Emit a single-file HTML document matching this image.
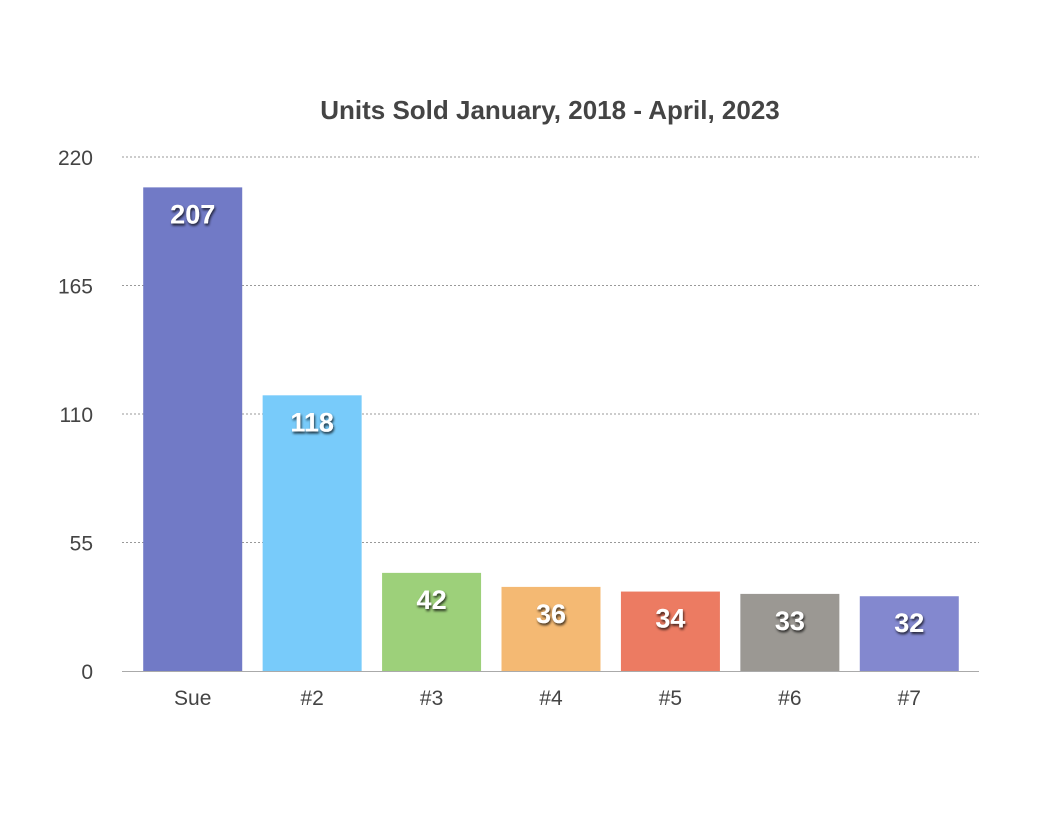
<!DOCTYPE html>
<html><head><meta charset="utf-8"><style>
body{margin:0;background:#fff;}
svg text{font-family:"Liberation Sans",Arial,sans-serif;}
</style></head><body>
<svg id="chart" width="1038" height="824" xmlns="http://www.w3.org/2000/svg">
<defs><filter id="sh" x="-20%" y="-20%" width="140%" height="160%"><feDropShadow dx="1" dy="2" stdDeviation="1.2" flood-color="#000" flood-opacity="0.75"/></filter></defs>
<text x="550" y="119" text-anchor="middle" font-size="26" font-weight="bold" fill="#444">Units Sold January, 2018 - April, 2023</text>
<g id="grid"></g><g id="bars"></g><g id="labels"></g>
</svg>
<script>
const categories=["Sue","#2","#3","#4","#5","#6","#7"];
const values=[207,118,42,36,34,33,32];
const colors=["#717ac6","#78cbfa","#9dd07a","#f4b973","#ec7b62","#9b9893","#8388cf"];
const ticks=[0,55,110,165,220];
const NS="http://www.w3.org/2000/svg";
const y0=671,y1=157,vmax=220,bandL=133,bandR=969,barW=99;
const y=v=>y0-(v/vmax)*(y0-y1);
const bw=(bandR-bandL)/categories.length;
const x=i=>bandL+bw*i+bw/2;
function mk(t,a,p){const e=document.createElementNS(NS,t);for(const k in a)e.setAttribute(k,a[k]);p.appendChild(e);return e;}
const g=document.getElementById('grid'),b=document.getElementById('bars'),l=document.getElementById('labels');
ticks.forEach(t=>{
 if(t>0){const ln=mk('line',{x1:122,x2:979,y1:y(t),y2:y(t),stroke:'#999','stroke-dasharray':'2,2','stroke-width':1},g);
 
 }
 const tx=mk('text',{x:93,y:y(t)+8,'text-anchor':'end','font-size':21,fill:'#444'},g);tx.textContent=t;
 
 
});
const ax=mk('line',{x1:122,x2:979,y1:y0+0.5,y2:y0+0.5,stroke:'#aaa','stroke-width':1},g);


values.forEach((v,i)=>{
 const r=mk('rect',{x:x(i)-barW/2,y:y(v),width:barW,height:y0-y(v),fill:colors[i]},b);
 
 
 const t=mk('text',{x:x(i),y:y(v)+36,'text-anchor':'middle','font-size':27,'font-weight':'bold',fill:'#fff',filter:'url(#sh)'},l);t.textContent=v;
 
 
 const c=mk('text',{x:x(i),y:705,'text-anchor':'middle','font-size':21,fill:'#444'},l);c.textContent=categories[i];
 
 
});
</script>
</body></html>
